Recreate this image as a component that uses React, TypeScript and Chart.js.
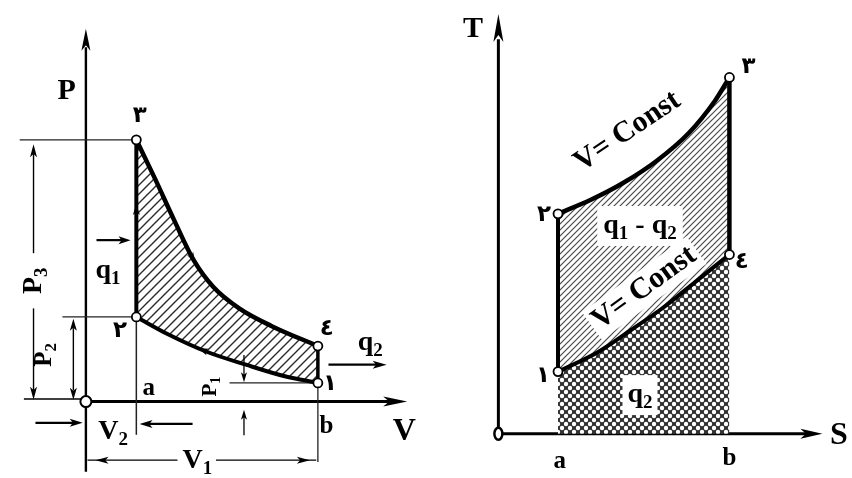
import React, { useEffect, useRef } from "react";
import { Chart, registerables } from "chart.js";

Chart.register(...registerables);

// ---------------- P–V diagram (Otto cycle) ----------------
// state order: 1, 2, 3, 4
const pvStateNames = ["١", "٢", "٣", "٤"];
const pvStateV = [7.22, 1.57, 1.57, 7.22];
const pvStateP = [0.5, 2.27, 7.02, 1.49];
// adiabatic expansion 3 -> 4
const pvExpansionV = [1.57, 2.15, 2.75, 3.35, 3.96, 4.77, 5.77, 7.22];
const pvExpansionP = [7.02, 5.98, 4.86, 3.8, 3.08, 2.5, 2.03, 1.49];
// adiabatic compression 1 -> 2
const pvCompressionV = [1.57, 2.57, 3.78, 4.98, 6.19, 7.22];
const pvCompressionP = [2.27, 1.8, 1.33, 0.99, 0.68, 0.5];

// ---------------- T–S diagram ----------------
const tsStateNames = ["١", "٢", "٣", "٤"];
const tsStateS = [1.84, 1.84, 7.13, 7.13];
const tsStateT = [1.48, 5.24, 8.49, 4.27];
// constant volume heat addition 2 -> 3
const tsHeatAddS = [1.84, 2.87, 3.86, 4.88, 5.87, 6.68, 7.13];
const tsHeatAddT = [5.24, 5.58, 5.98, 6.5, 7.16, 7.93, 8.49];
// constant volume heat rejection 1 -> 4
const tsHeatRejS = [1.84, 3.08, 4.07, 5.06, 6.08, 7.13];
const tsHeatRejT = [1.48, 1.95, 2.46, 2.99, 3.62, 4.27];
const tsAxisMarks = ["a", "b"];

const SERIF = '"Liberation Serif", "Times New Roman", "DejaVu Serif", serif';
const ARAB = '"DejaVu Sans", "Noto Sans", sans-serif';

type Run = { t: string; sub?: boolean };

function pts(xs: number[], ys: number[]) {
  return xs.map((x, i) => ({ x, y: ys[i] }));
}

function seg(ctx: any, x1: number, y1: number, x2: number, y2: number, w: number) {
  ctx.lineWidth = w;
  ctx.beginPath();
  ctx.moveTo(x1, y1);
  ctx.lineTo(x2, y2);
  ctx.stroke();
}

function headAt(ctx: any, x: number, y: number, ang: number, len: number, hw: number) {
  ctx.save();
  ctx.translate(x, y);
  ctx.rotate(ang);
  ctx.beginPath();
  ctx.moveTo(0, 0);
  ctx.lineTo(-len, -hw);
  ctx.lineTo(-len * 0.75, 0);
  ctx.lineTo(-len, hw);
  ctx.closePath();
  ctx.fill();
  ctx.restore();
}

function arrowLine(ctx: any, x1: number, y1: number, x2: number, y2: number, w: number, len: number, hw: number) {
  const ang = Math.atan2(y2 - y1, x2 - x1);
  seg(ctx, x1, y1, x2 - Math.cos(ang) * len * 0.7, y2 - Math.sin(ang) * len * 0.7, w);
  headAt(ctx, x2, y2, ang, len, hw);
}

function drawRuns(ctx: any, runs: Run[], x: number, y: number, size: number, rot = 0, box?: { px: number; py: number }) {
  ctx.save();
  ctx.translate(x, y);
  ctx.rotate(rot);
  const subSize = Math.round(size * 0.68);
  let total = 0;
  const widths = runs.map((r) => {
    ctx.font = `bold ${r.sub ? subSize : size}px ${SERIF}`;
    const w = ctx.measureText(r.t).width;
    total += w;
    return w;
  });
  if (box) {
    ctx.fillStyle = "#fff";
    ctx.fillRect(-total / 2 - box.px, -size * 0.5 - box.py, total + 2 * box.px, size * 1.0 + 2 * box.py);
  }
  ctx.fillStyle = "#000";
  ctx.textBaseline = "middle";
  ctx.textAlign = "left";
  let cx = -total / 2;
  runs.forEach((r, i) => {
    ctx.font = `bold ${r.sub ? subSize : size}px ${SERIF}`;
    ctx.fillText(r.t, cx, r.sub ? size * 0.3 : 0);
    cx += widths[i];
  });
  ctx.restore();
}

function arabic(ctx: any, t: string, x: number, y: number, size: number) {
  ctx.save();
  ctx.fillStyle = "#000";
  ctx.font = `bold ${size}px ${ARAB}`;
  ctx.textAlign = "center";
  ctx.textBaseline = "middle";
  ctx.fillText(t, x, y);
  ctx.restore();
}

function makeHatch(size: number, color: string, w: number) {
  const c = document.createElement("canvas");
  c.width = size;
  c.height = size;
  const g = c.getContext("2d") as CanvasRenderingContext2D;
  g.strokeStyle = color;
  g.lineWidth = w;
  g.beginPath();
  g.moveTo(-1, size + 1);
  g.lineTo(size + 1, -1);
  g.moveTo(-2, 2);
  g.lineTo(2, -2);
  g.moveTo(size - 2, size + 2);
  g.lineTo(size + 2, size - 2);
  g.stroke();
  return g.createPattern(c, "repeat");
}

function makeCross(size: number, r: number) {
  const c = document.createElement("canvas");
  c.width = size;
  c.height = size;
  const g = c.getContext("2d") as CanvasRenderingContext2D;
  g.fillStyle = "#303030";
  g.fillRect(0, 0, size, size);
  g.fillStyle = "#ffffff";
  const centers = [
    [0, 0],
    [size, 0],
    [0, size],
    [size, size],
    [size / 2, size / 2],
  ];
  centers.forEach(([x, y]) => {
    g.beginPath();
    g.arc(x, y, r, 0, Math.PI * 2);
    g.fill();
  });
  return g.createPattern(c, "repeat");
}

function lineDs(xs: number[], ys: number[], width: number, extra: any = {}) {
  return {
    data: pts(xs, ys),
    showLine: true,
    pointRadius: 0,
    borderColor: "#000",
    borderWidth: width,
    fill: false,
    order: 1,
    cubicInterpolationMode: "monotone",
    ...extra,
  };
}

function straightDs(xs: number[], ys: number[], width: number) {
  return {
    data: pts(xs, ys),
    showLine: true,
    pointRadius: 0,
    borderColor: "#000",
    borderWidth: width,
    fill: false,
    order: 1,
    tension: 0,
  };
}

function baseOptions(xmin: number, xmax: number, ymin: number, ymax: number) {
  return {
    animation: false,
    responsive: false,
    maintainAspectRatio: false,
    events: [],
    layout: { padding: 0 },
    plugins: { legend: { display: false }, tooltip: { enabled: false }, title: { display: false } },
    scales: {
      x: { type: "linear", min: xmin, max: xmax, display: false, bounds: "data", grace: 0 },
      y: { type: "linear", min: ymin, max: ymax, display: false, bounds: "data", grace: 0 },
    },
  };
}

// axis ranges (data units)
const L_XMIN = -82 / 33.1;
const L_XMAX = 348 / 33.1;
const L_YMIN = -72 / 38.3;
const L_YMAX = 406 / 38.3;
const R_XMIN = -64 / 33.4;
const R_XMAX = 358 / 33.4;
const R_YMIN = -39 / 43.1;
const R_YMAX = 439 / 43.1;

export default function App() {
  const leftRef = useRef<HTMLCanvasElement | null>(null);
  const rightRef = useRef<HTMLCanvasElement | null>(null);

  useEffect(() => {
    const hatchL = makeHatch(9, "#2a2a2a", 1.4);
    const hatchR = makeHatch(6, "#4a4a4a", 1.2);
    const cross = makeCross(8, 2.2);

    // ---------- left chart ----------
    const [V1, V2] = [pvStateV[0], pvStateV[1]];
    const [P1, P2, P3] = [pvStateP[0], pvStateP[1], pvStateP[2]];

    const leftPlugin = {
      id: "pvDecor",
      beforeDatasetsDraw(chart: any) {
        const ctx = chart.ctx;
        const X = (v: number) => chart.scales.x.getPixelForValue(v);
        const Y = (p: number) => chart.scales.y.getPixelForValue(p);
        ctx.save();
        ctx.strokeStyle = "#000";
        ctx.fillStyle = "#000";
        // axes
        seg(ctx, X(0), Y(L_YMIN), X(0), Y(9.5), 2.4);
        headAt(ctx, X(0), Y(10), -Math.PI / 2, 22, 4.5);
        seg(ctx, X(-1.93), Y(0.07), X(0), Y(0.07), 1.3);
        seg(ctx, X(0), Y(0), X(9.5), Y(0), 3);
        headAt(ctx, X(10), Y(0), 0, 24, 5);
        // extension lines
        ctx.strokeStyle = "#222";
        seg(ctx, X(-2.06), Y(P3), X(V2), Y(P3), 1.3);
        seg(ctx, X(-0.73), Y(P2), X(V2), Y(P2), 1.3);
        seg(ctx, X(V2), Y(P2), X(V2), Y(-0.89), 1.5);
        seg(ctx, X(V1), Y(P1), X(V1), Y(-1.62), 1.3);
        seg(ctx, X(4.47), Y(P1), X(V1), Y(P1), 1.3);
        ctx.restore();
      },
      afterDatasetsDraw(chart: any) {
        const ctx = chart.ctx;
        const X = (v: number) => chart.scales.x.getPixelForValue(v);
        const Y = (p: number) => chart.scales.y.getPixelForValue(p);
        ctx.save();
        ctx.strokeStyle = "#000";
        ctx.fillStyle = "#000";
        // P3 dimension
        const xd3 = X(-1.63);
        seg(ctx, xd3, Y(P3 - 0.35), xd3, Y(3.98), 1.4);
        seg(ctx, xd3, Y(2.5), xd3, Y(0.3), 1.4);
        headAt(ctx, xd3, Y(P3 - 0.12), -Math.PI / 2, 13, 3.5);
        headAt(ctx, xd3, Y(0.05), Math.PI / 2, 13, 3.5);
        drawRuns(ctx, [{ t: "P" }, { t: "3", sub: true }], xd3, Y(3.24), 28, -Math.PI / 2);
        // P2 dimension
        const xd2 = X(-0.39);
        seg(ctx, xd2, Y(P2 - 0.3), xd2, Y(0.3), 1.4);
        headAt(ctx, xd2, Y(P2 - 0.05), -Math.PI / 2, 12, 3.5);
        headAt(ctx, xd2, Y(0.05), Math.PI / 2, 12, 3.5);
        drawRuns(ctx, [{ t: "P" }, { t: "2", sub: true }], X(-1.3), Y(1.25), 25, -Math.PI / 2);
        // P1 marker
        drawRuns(ctx, [{ t: "P" }, { t: "1", sub: true }], X(3.87), Y(0.4), 21, -Math.PI / 2);
        arrowLine(ctx, X(4.92), Y(1.25), X(4.92), Y(P1 + 0.02), 1.3, 10, 3);
        arrowLine(ctx, X(4.92), Y(-0.9), X(4.92), Y(-0.22), 1.3, 10, 3);
        // V2 dimension
        arrowLine(ctx, X(-1.57), Y(-0.57), X(-0.1), Y(-0.57), 2.2, 13, 4);
        arrowLine(ctx, X(3.32), Y(-0.6), X(V2 + 0.1), Y(-0.6), 2.2, 13, 4);
        drawRuns(ctx, [{ t: "V" }, { t: "2", sub: true }], X(0.85), Y(-0.82), 28);
        // V1 dimension
        const yv1 = Y(-1.57);
        seg(ctx, X(0.05), yv1, X(2.85), yv1, 1.4);
        seg(ctx, X(4.05), yv1, X(V1 - 0.05), yv1, 1.4);
        headAt(ctx, X(0.3), yv1, Math.PI, 13, 3.5);
        headAt(ctx, X(V1 - 0.25), yv1, 0, 13, 3.5);
        drawRuns(ctx, [{ t: "V" }, { t: "1", sub: true }], X(3.47), Y(-1.58), 28);
        // heat arrows
        arrowLine(ctx, X(0.33), Y(4.33), X(1.39), Y(4.33), 2.2, 12, 4);
        drawRuns(ctx, [{ t: "q" }, { t: "1", sub: true }], X(0.69), Y(3.5), 28);
        arrowLine(ctx, X(7.55), Y(0.99), X(9.36), Y(0.99), 2.2, 14, 4);
        drawRuns(ctx, [{ t: "q" }, { t: "2", sub: true }], X(8.85), Y(1.58), 28);
        // direction markers on the cycle
        headAt(ctx, X(V2), Y(5.3), -Math.PI / 2, 11, 3.5);
        {
          const a = Math.atan2(Y(3.08) - Y(4.86), X(3.96) - X(2.75));
          headAt(ctx, X(3.4), Y(3.74), a, 10, 3.5);
          const b = Math.atan2(Y(1.8) - Y(0.99), X(2.57) - X(4.98));
          headAt(ctx, X(3.5), Y(1.43), b, 10, 3.5);
        }
        // axis texts
        drawRuns(ctx, [{ t: "P" }], X(-0.6), Y(8.33), 30);
        drawRuns(ctx, [{ t: "V" }], X(9.91), Y(-0.81), 32);
        drawRuns(ctx, [{ t: "a" }], X(1.96), Y(0.34), 25);
        drawRuns(ctx, [{ t: "b" }], X(7.49), Y(-0.68), 25);
        // state names
        arabic(ctx, pvStateNames[2], X(1.68), Y(7.65), 23);
        arabic(ctx, pvStateNames[1], X(1.06), Y(1.9), 23);
        arabic(ctx, pvStateNames[3], X(7.5), Y(1.95), 23);
        arabic(ctx, pvStateNames[0], X(7.6), Y(0.47), 23);
        // origin circle
        ctx.beginPath();
        ctx.arc(X(0), Y(0), 5.5, 0, Math.PI * 2);
        ctx.fillStyle = "#fff";
        ctx.fill();
        ctx.lineWidth = 2;
        ctx.stroke();
        ctx.restore();
      },
    };

    const leftChart = new Chart(leftRef.current as HTMLCanvasElement, {
      type: "scatter",
      data: {
        datasets: [
          lineDs(pvExpansionV, pvExpansionP, 4.5),
          lineDs(pvCompressionV, pvCompressionP, 4),
          straightDs([V2, V2], [P2, P3], 4),
          straightDs([V1, V1], [P1, pvStateP[3]], 3.5),
          lineDs(pvExpansionV, pvExpansionP, 1, {
            borderColor: "rgba(0,0,0,0)",
            backgroundColor: hatchL,
            fill: 5,
            order: 3,
          }),
          lineDs(pvCompressionV, pvCompressionP, 1, { borderColor: "rgba(0,0,0,0)", order: 3 }),
          {
            data: pts(pvStateV, pvStateP),
            showLine: false,
            pointRadius: 4.5,
            pointBackgroundColor: "#fff",
            pointBorderColor: "#000",
            pointBorderWidth: 1.8,
            order: 0,
          },
        ],
      } as any,
      options: baseOptions(L_XMIN, L_XMAX, L_YMIN, L_YMAX) as any,
      plugins: [leftPlugin],
    });

    // ---------- right chart ----------
    const [Sa, Sb] = [tsStateS[0], tsStateS[2]];
    const rightPlugin = {
      id: "tsDecor",
      beforeDatasetsDraw(chart: any) {
        const ctx = chart.ctx;
        const X = (v: number) => chart.scales.x.getPixelForValue(v);
        const Y = (p: number) => chart.scales.y.getPixelForValue(p);
        ctx.save();
        ctx.strokeStyle = "#000";
        ctx.fillStyle = "#000";
        seg(ctx, X(0), Y(0), X(0), Y(9.4), 3);
        headAt(ctx, X(0), Y(10), -Math.PI / 2, 28, 5);
        seg(ctx, X(0), Y(0), X(9.5), Y(0), 3);
        headAt(ctx, X(10), Y(0), 0, 22, 5);
        ctx.restore();
      },
      afterDatasetsDraw(chart: any) {
        const ctx = chart.ctx;
        const X = (v: number) => chart.scales.x.getPixelForValue(v);
        const Y = (p: number) => chart.scales.y.getPixelForValue(p);
        ctx.save();
        const rot1 = (-34 * Math.PI) / 180;
        const rot2 = (-36 * Math.PI) / 180;
        drawRuns(ctx, [{ t: "V= Const" }], X(3.98), Y(7.2), 30, rot1);
        drawRuns(ctx, [{ t: "V= Const" }], X(4.5), Y(3.47), 30, rot2, { px: 4, py: 2 });
        drawRuns(
          ctx,
          [{ t: "q" }, { t: "1", sub: true }, { t: " - " }, { t: "q" }, { t: "2", sub: true }],
          X(4.37),
          Y(4.95),
          28,
          0,
          { px: 6, py: 6 }
        );
        drawRuns(ctx, [{ t: "q" }, { t: "2", sub: true }], X(4.37), Y(0.92), 28, 0, { px: 5, py: 6 });
        drawRuns(ctx, [{ t: "T" }], X(-0.78), Y(9.65), 30);
        drawRuns(ctx, [{ t: "S" }], X(10.51), Y(-0.05), 32);
        drawRuns(ctx, [{ t: tsAxisMarks[0] }], X(Sa + 0.05), Y(-0.67), 25);
        drawRuns(ctx, [{ t: tsAxisMarks[1] }], X(Sb), Y(-0.6), 25);
        arabic(ctx, tsStateNames[2], X(7.72), Y(8.75), 23);
        arabic(ctx, tsStateNames[1], X(1.41), Y(5.2), 23);
        arabic(ctx, tsStateNames[3], X(7.51), Y(4.08), 23);
        arabic(ctx, tsStateNames[0], X(1.38), Y(1.37), 23);
        // origin "o"
        ctx.beginPath();
        ctx.ellipse(X(0), Y(0), 4, 6, 0, 0, Math.PI * 2);
        ctx.fillStyle = "#fff";
        ctx.fill();
        ctx.strokeStyle = "#000";
        ctx.lineWidth = 2.5;
        ctx.stroke();
        ctx.restore();
      },
    };

    const rightChart = new Chart(rightRef.current as HTMLCanvasElement, {
      type: "scatter",
      data: {
        datasets: [
          lineDs(tsHeatAddS, tsHeatAddT, 4.5),
          lineDs(tsHeatRejS, tsHeatRejT, 4),
          straightDs([Sa, Sa], [tsStateT[0], tsStateT[1]], 4),
          straightDs([Sb, Sb], [tsStateT[3], tsStateT[2]], 4.5),
          lineDs(tsHeatAddS, tsHeatAddT, 1, {
            borderColor: "rgba(0,0,0,0)",
            backgroundColor: hatchR,
            fill: 5,
            order: 3,
          }),
          lineDs(tsHeatRejS, tsHeatRejT, 1, {
            borderColor: "rgba(0,0,0,0)",
            backgroundColor: cross,
            fill: "origin",
            order: 4,
          }),
          {
            data: pts(tsStateS, tsStateT),
            showLine: false,
            pointRadius: 4.5,
            pointBackgroundColor: "#fff",
            pointBorderColor: "#000",
            pointBorderWidth: 1.8,
            order: 0,
          },
        ],
      } as any,
      options: baseOptions(R_XMIN, R_XMAX, R_YMIN, R_YMAX) as any,
      plugins: [rightPlugin],
    });

    return () => {
      leftChart.destroy();
      rightChart.destroy();
    };
  }, []);

  return (
    <div style={{ position: "absolute", left: 0, top: 0, width: 852, height: 478, background: "#fff" }}>
      <canvas ref={leftRef} width={430} height={478} style={{ position: "absolute", left: 0, top: 0 }} />
      <canvas ref={rightRef} width={422} height={478} style={{ position: "absolute", left: 430, top: 0 }} />
    </div>
  );
}
